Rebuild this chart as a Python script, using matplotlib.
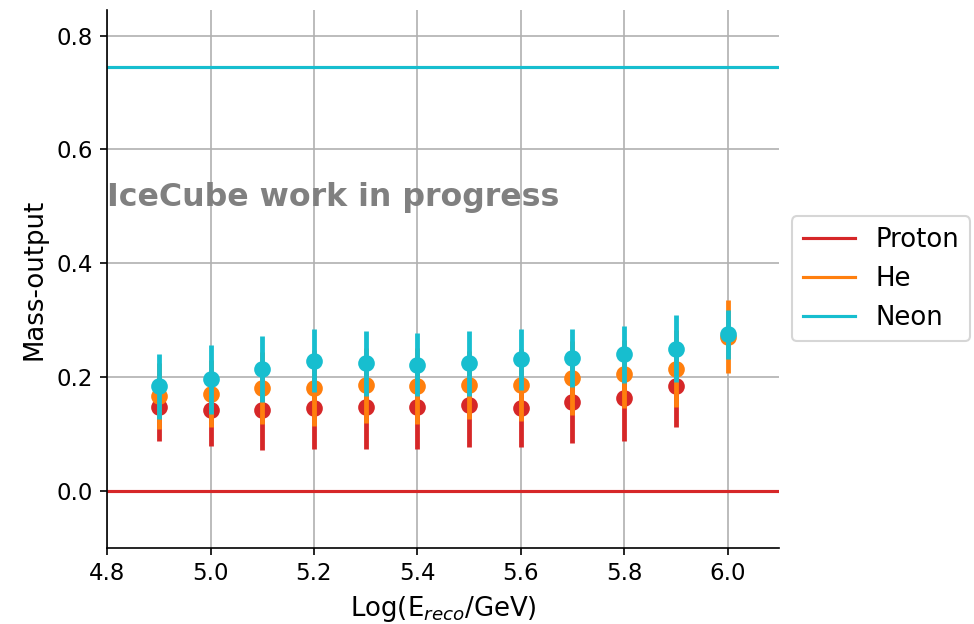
import numpy as np
import matplotlib
matplotlib.use("Agg")
import matplotlib.pyplot as plt

# reconstructed energy bins, Log10(E/GeV)
energy = [4.9, 5.0, 5.1, 5.2, 5.3, 5.4, 5.5, 5.6, 5.7, 5.8, 5.9, 6.0]
energy_proton = energy[:-1]

# mean mass-output and spread per bin
proton_mean = [0.148, 0.143, 0.142, 0.145, 0.148, 0.148, 0.151, 0.145, 0.157, 0.163, 0.184]
proton_err = [0.060, 0.064, 0.070, 0.071, 0.074, 0.074, 0.074, 0.068, 0.073, 0.075, 0.072]
he_mean = [0.167, 0.171, 0.181, 0.181, 0.186, 0.184, 0.186, 0.186, 0.198, 0.205, 0.215, 0.271]
he_err = [0.058, 0.059, 0.064, 0.067, 0.066, 0.067, 0.060, 0.063, 0.065, 0.060, 0.067, 0.064]
neon_mean = [0.184, 0.196, 0.215, 0.229, 0.224, 0.222, 0.224, 0.231, 0.234, 0.240, 0.250, 0.275]
neon_err = [0.057, 0.061, 0.058, 0.056, 0.057, 0.056, 0.057, 0.054, 0.051, 0.050, 0.059, 0.043]

# true labels: ln(A)/ln(56)
proton_true = 0.0
neon_true = np.log(20) / np.log(56)

plt.rcParams["font.size"] = 11

fig = plt.figure(figsize=(974 / 150, 624 / 150), dpi=150)
ax = fig.add_axes([0.110, 0.122, 0.690, 0.862])

ax.axhline(proton_true, color="tab:red", lw=1.5, label="Proton")
ax.plot([], [], color="tab:orange", lw=1.5, label="He")
ax.axhline(neon_true, color="tab:cyan", lw=1.5, label="Neon")

# each species on its own layer, so later bars run over earlier markers
ax.errorbar(energy_proton, proton_mean, yerr=proton_err, fmt="o", color="tab:red",
            elinewidth=2.3, ms=7, zorder=3)
ax.errorbar(energy, he_mean, yerr=he_err, fmt="o", color="tab:orange",
            elinewidth=2.3, ms=7, zorder=4)
ax.errorbar(energy, neon_mean, yerr=neon_err, fmt="o", color="tab:cyan",
            elinewidth=2.3, ms=7, zorder=5)

ax.text(4.8, 0.5, "IceCube work in progress", color="gray", fontsize=15.2, fontweight="bold")

ax.set_xlim(4.8, 6.1)
ax.set_ylim(-0.1, 0.845)
ax.set_xlabel(r"Log(E$_{reco}$/GeV)", fontsize=12.5)
ax.set_ylabel("Mass-output", fontsize=12.5)
ax.grid(True)
ax.spines["top"].set_visible(False)
ax.spines["right"].set_visible(False)
ax.legend(loc="center left", bbox_to_anchor=(1, 0.5), fontsize=12.5)

fig.savefig("out.png", dpi=150)
